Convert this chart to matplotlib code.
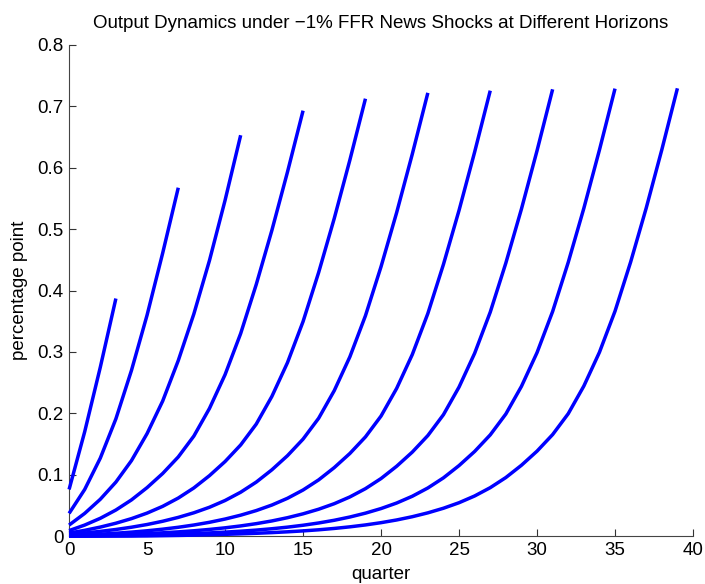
"""Output response to -1% FFR news shocks announced at different horizons."""

import matplotlib
matplotlib.use("Agg")
import matplotlib.pyplot as plt

plt.rcParams["font.family"] = ["Liberation Sans", "DejaVu Sans"]

# news horizon (quarter in which the rate cut happens)
HORIZONS = [3, 7, 11, 15, 19, 23, 27, 31, 35, 39]

# output path (percentage point), quarters 0..h for each horizon
Y_H3 = [0.076, 0.170, 0.275, 0.387]
Y_H7 = [0.037, 0.076, 0.127, 0.191, 0.270, 0.360, 0.461, 0.5675]
Y_H11 = [0.018, 0.037, 0.060, 0.088, 0.123, 0.167, 0.220, 0.286, 0.362, 0.449,
         0.547, 0.653]
Y_H15 = [0.009, 0.018, 0.029, 0.0425, 0.059, 0.079, 0.102, 0.129, 0.163, 0.208,
         0.263, 0.330, 0.410, 0.498, 0.593, 0.693]
Y_H19 = [0.005, 0.0094, 0.0147, 0.021, 0.0285, 0.0375, 0.0485, 0.062, 0.0785,
         0.0985, 0.1215, 0.1485, 0.1825, 0.2275, 0.2825, 0.3495, 0.4295, 0.5175,
         0.6125, 0.7125]
Y_H23 = [0.0029, 0.0051, 0.0077, 0.0108, 0.0145, 0.0189, 0.0242, 0.0305, 0.038,
         0.047, 0.058, 0.0715, 0.088, 0.108, 0.131, 0.158, 0.192, 0.237, 0.292,
         0.359, 0.439, 0.527, 0.622, 0.722]
Y_H27 = [0.0008, 0.0019, 0.0032, 0.0047, 0.0065, 0.0087, 0.0113, 0.0144, 0.0181,
         0.0225, 0.0278, 0.0341, 0.0416, 0.0506, 0.0616, 0.0751, 0.0916, 0.1116,
         0.1346, 0.1616, 0.1956, 0.2406, 0.2956, 0.3626, 0.4426, 0.5306, 0.6256,
         0.7256]
Y_H31 = [0.0002, 0.0006, 0.0013, 0.0021, 0.0030, 0.0041, 0.0054, 0.0069, 0.0087,
         0.0109, 0.0135, 0.0166, 0.0203, 0.0247, 0.0300, 0.0363, 0.0438, 0.0528,
         0.0638, 0.0773, 0.0938, 0.1138, 0.1368, 0.1638, 0.1978, 0.2428, 0.2978,
         0.3648, 0.4448, 0.5328, 0.6278, 0.7278]
Y_H35 = [0.0001, 0.0001, 0.0002, 0.0006, 0.0011, 0.0017, 0.0024, 0.0032, 0.0041,
         0.0052, 0.0065, 0.0080, 0.0098, 0.0120, 0.0146, 0.0177, 0.0214, 0.0258,
         0.0311, 0.0374, 0.0449, 0.0539, 0.0649, 0.0784, 0.0949, 0.1149, 0.1379,
         0.1649, 0.1989, 0.2439, 0.2989, 0.3659, 0.4459, 0.5339, 0.6289, 0.7289]
Y_H39 = [0.0001, 0.0001, 0.0001, 0.0001, 0.0001, 0.0003, 0.0007, 0.0011, 0.0016,
         0.0022, 0.0029, 0.0037, 0.0046, 0.0057, 0.0070, 0.0085, 0.0103, 0.0125,
         0.0151, 0.0182, 0.0219, 0.0263, 0.0316, 0.0379, 0.0454, 0.0544, 0.0654,
         0.0789, 0.0954, 0.1154, 0.1384, 0.1654, 0.1994, 0.2444, 0.2994, 0.3664,
         0.4464, 0.5344, 0.6294, 0.7294]

PATHS = [Y_H3, Y_H7, Y_H11, Y_H15, Y_H19, Y_H23, Y_H27, Y_H31, Y_H35, Y_H39]

X_TICKS = [0, 5, 10, 15, 20, 25, 30, 35, 40]
Y_TICKS = [0, 0.1, 0.2, 0.3, 0.4, 0.5, 0.6, 0.7, 0.8]
Y_TICK_LABELS = ["0", "0.1", "0.2", "0.3", "0.4", "0.5", "0.6", "0.7", "0.8"]

FONT_SIZE = 13.5


def main() -> None:
    fig = plt.figure(figsize=(7.05, 5.84), dpi=100)
    ax = fig.add_axes([0.098, 0.082, 0.885, 0.841])

    for h, path in zip(HORIZONS, PATHS):
        ax.plot(range(h + 1), path, color="#0000ff", linewidth=2.5,
                solid_capstyle="butt", solid_joinstyle="round",
                clip_on=False, zorder=3)

    ax.set_xlim(0, 40)
    ax.set_ylim(0, 0.8)
    ax.set_xticks(X_TICKS)
    ax.set_yticks(Y_TICKS)
    ax.set_yticklabels(Y_TICK_LABELS)
    ax.tick_params(direction="in", length=5, width=0.8, labelsize=FONT_SIZE,
                   colors="#333333", labelcolor="black", pad=4)
    for side in ("top", "right"):
        ax.spines[side].set_visible(False)
    for side in ("left", "bottom"):
        ax.spines[side].set_color("#444444")
        ax.spines[side].set_linewidth(0.8)

    ax.set_xlabel("quarter", fontsize=FONT_SIZE, labelpad=5)
    ax.set_ylabel("percentage point", fontsize=FONT_SIZE, labelpad=7)
    ax.set_title("Output Dynamics under \u22121% FFR News Shocks at Different Horizons",
                 fontsize=FONT_SIZE, pad=12)

    fig.savefig("out.png", dpi=100)
    plt.close(fig)


if __name__ == "__main__":
    main()
